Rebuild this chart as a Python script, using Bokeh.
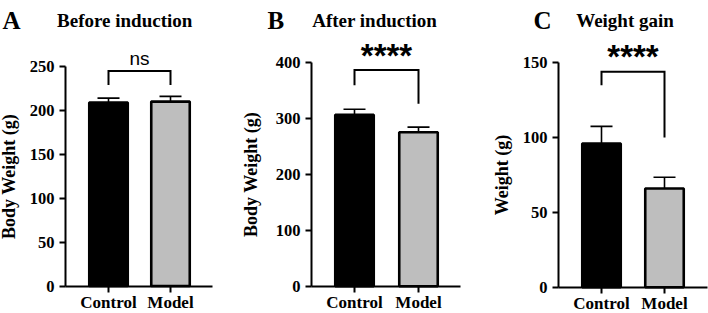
from bokeh.plotting import figure
from bokeh.layouts import row
from bokeh.models import Range1d, FixedTicker, ColumnDataSource
from bokeh.core.properties import value
from bokeh.embed import file_html
from bokeh.resources import INLINE

# ---------------- data ----------------
categories = ["Control", "Model"]
panel_letters = ["A", "B", "C"]
panel_titles = ["Before induction", "After induction", "Weight gain"]
y_labels = ["Body Weight (g)", "Body Weight (g)", "Weight (g)"]

means_a = [209, 210]
sd_a = [5, 6]
means_b = [306, 275]
sd_b = [10, 9]
means_c = [96, 66]
sd_c = [11.5, 7.5]

yticks_a = [0, 50, 100, 150, 200, 250]
yticks_b = [0, 100, 200, 300, 400]
yticks_c = [0, 50, 100, 150]

sig_labels = ["ns", "****", "****"]
# bracket: [left end, top, right end]
bracket_a = [229, 245, 229]
bracket_b = [359, 386, 326]
bracket_c = [135, 144, 100]

bar_colors = ["#000000", "#bebebe"]

# ---------------- layout (pixel geometry of the page) ----------------
SERIF = "Liberation Serif"
SANS = "Liberation Sans"
H = 313
TITLE_BASE = 20

panels = [
    dict(means=means_a, sd=sd_a, yticks=yticks_a, br=bracket_a,
         x0=0, w=240, c1=108, unit=62, axis_px=65, zero_px=285.5, top_px=66.0,
         xend_px=212, letter_px=2, title_px=124.2, lab_standoff=8),
    dict(means=means_b, sd=sd_b, yticks=yticks_b, br=bracket_b,
         x0=240, w=230, c1=354, unit=64, axis_px=311, zero_px=285.7, top_px=61.7,
         xend_px=460, letter_px=267, title_px=374.2, lab_standoff=12),
    dict(means=means_c, sd=sd_c, yticks=yticks_c, br=bracket_c,
         x0=470, w=238, c1=601, unit=63, axis_px=558, zero_px=286.7, top_px=62.3,
         xend_px=707, letter_px=533, title_px=624.5, lab_standoff=8),
]

figs = []
for i, pn in enumerate(panels):
    u = pn["unit"]
    x_start = 1 - (pn["c1"] - pn["x0"]) / u
    x_end = x_start + pn["w"] / u
    top_val = pn["yticks"][-1]
    ppu = (pn["zero_px"] - pn["top_px"]) / top_val
    y_start = -(H - pn["zero_px"]) / ppu
    y_end = pn["zero_px"] / ppu

    def px2x(px, xs0=x_start, x0=pn["x0"], uu=u):
        return xs0 + (px - x0) / uu

    def px2y(py, z=pn["zero_px"], k=ppu):
        return (z - py) / k

    p = figure(width=pn["w"], height=H, output_backend="svg", toolbar_location=None,
               x_range=Range1d(x_start, x_end), y_range=Range1d(y_start, y_end),
               min_border=0, min_border_left=0, min_border_right=0,
               min_border_top=0, min_border_bottom=0)
    p.outline_line_color = None
    p.xgrid.visible = False
    p.ygrid.visible = False
    p.background_fill_color = "white"
    p.border_fill_color = "white"

    xs = [k + 1 for k in range(len(categories))]
    tops = [m + s for m, s in zip(pn["means"], pn["sd"])]
    cap = 22 / u
    src = ColumnDataSource(dict(x=xs, mean=pn["means"], top=tops, color=bar_colors,
                                cl=[x - cap / 2 for x in xs], cr=[x + cap / 2 for x in xs]))

    # error bars (upper only)
    p.segment(x0="x", y0="mean", x1="x", y1="top", source=src, line_color="black", line_width=1.6)
    p.segment(x0="cl", y0="top", x1="cr", y1="top", source=src, line_color="black", line_width=1.6)
    # bars
    p.vbar(x="x", top="mean", bottom=0, width=38.5 / u, source=src, fill_color="color",
           line_color="black", line_width=2.6)

    # significance bracket
    br = pn["br"]
    p.line(x=[xs[0], xs[0], xs[1], xs[1]], y=[br[0], br[1], br[1], br[2]],
           line_color="black", line_width=2, line_join="miter")
    mid = (xs[0] + xs[1]) / 2
    if sig_labels[i] == "ns":
        p.text(x=[mid], y=[br[1]], text=[sig_labels[i]], text_font=value(SANS),
               text_font_size="19px", text_align="center", text_baseline="alphabetic",
               y_offset=-12, text_color="black")
    else:
        p.text(x=[mid], y=[br[1]], text=[sig_labels[i]], text_font=value(SANS),
               text_font_style="bold", text_font_size="33px", text_align="center",
               text_baseline="alphabetic", y_offset=-15, text_color="black")

    # panel letter and title
    p.text(x=[px2x(pn["letter_px"])], y=[px2y(TITLE_BASE)], text=[panel_letters[i]],
           text_font=value(SERIF), text_font_style="bold", text_font_size="25px",
           text_align="left", text_baseline="alphabetic", text_color="black")
    p.text(x=[px2x(pn["title_px"])], y=[px2y(TITLE_BASE)], text=[panel_titles[i]],
           text_font=value(SERIF), text_font_style="bold", text_font_size="19px",
           text_align="center", text_baseline="alphabetic", text_color="black")

    # axes (drawn inside the full-canvas frame)
    yaxis_loc = px2x(pn["axis_px"])
    p.xaxis.fixed_location = 0
    p.yaxis.fixed_location = yaxis_loc
    p.xaxis.ticker = FixedTicker(ticks=xs)
    p.xaxis.major_label_overrides = {x: c for x, c in zip(xs, categories)}
    p.xaxis.bounds = (yaxis_loc, px2x(pn["xend_px"]))
    p.yaxis.ticker = FixedTicker(ticks=pn["yticks"])
    p.yaxis.bounds = (0, top_val)
    for ax in (p.xaxis, p.yaxis):
        ax.axis_line_width = 2
        ax.axis_line_color = "black"
        ax.major_tick_line_width = 2
        ax.major_tick_line_color = "black"
        ax.major_tick_in = 0
        ax.minor_tick_line_color = None
        ax.major_label_text_font = SERIF
        ax.major_label_text_font_style = "bold"
        ax.major_label_text_color = "black"
    p.xaxis.major_tick_out = 6
    p.yaxis.major_tick_out = 6
    p.xaxis.major_label_text_font_size = "17px"
    p.yaxis.major_label_text_font_size = "16.5px"
    p.xaxis.major_label_standoff = 1
    p.yaxis.major_label_standoff = 5
    p.yaxis.axis_label = y_labels[i]
    p.yaxis.axis_label_text_font = SERIF
    p.yaxis.axis_label_text_font_style = "bold"
    p.yaxis.axis_label_text_font_size = "18px"
    p.yaxis.axis_label_text_color = "black"
    p.yaxis.axis_label_standoff = pn["lab_standoff"]
    figs.append(p)

layout = row(figs, spacing=0)
open("out.html", "w").write(file_html(layout, INLINE))
